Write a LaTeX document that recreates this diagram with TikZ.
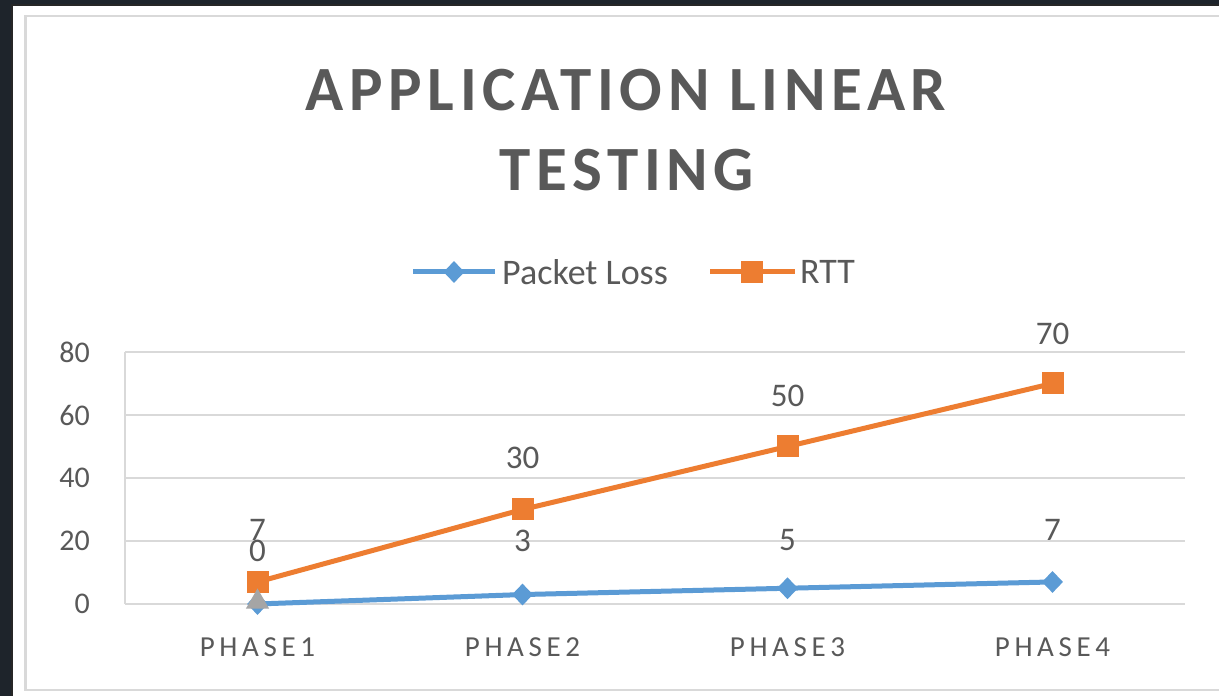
\documentclass[tikz,border=0pt]{standalone}
\usepackage{fontspec}
\setmainfont{Carlito}
\usetikzlibrary{shapes.geometric}
\definecolor{bgdark}{HTML}{1E242B}
\definecolor{plblue}{HTML}{5B9BD5}
\definecolor{rttorange}{HTML}{ED7D31}
\definecolor{sergray}{HTML}{A5A5A5}
\definecolor{txtgray}{HTML}{595959}
\definecolor{gridgray}{HTML}{D9D9D9}
\tikzset{
  gridline/.style={draw=gridgray, line width=1.6pt},
  serline/.style={line width=5pt, line join=round},
  diamk/.style={diamond, fill=plblue, minimum width=21pt, minimum height=22pt, inner sep=0pt},
  sqmk/.style={rectangle, fill=rttorange, minimum size=22pt, inner sep=0pt},
  trimk/.style={regular polygon, regular polygon sides=3, fill=sergray, minimum size=27pt, inner sep=0pt},
  datalab/.style={text=txtgray, font=\fontsize{33}{36}\selectfont, inner sep=0pt},
  axlab/.style={text=txtgray, font=\fontsize{30}{36}\selectfont, inner sep=0pt, anchor=east},
  catlab/.style={text=txtgray, font=\fontsize{29}{30}\selectfont\addfontfeature{LetterSpace=16}, inner sep=0pt},
  legtext/.style={text=txtgray, font=\fontsize{36}{40}\selectfont, inner sep=0pt, anchor=west},
  titletext/.style={text=txtgray, font=\fontsize{63}{70}\bfseries\selectfont\addfontfeature{LetterSpace=9}, inner sep=0pt}
}
\begin{document}
\begin{tikzpicture}[x=1pt,y=1pt]
\useasboundingbox (0,0) rectangle (1219,696);
\fill[bgdark] (0,0) rectangle (1219,696);
\fill[black!85] (10.5,0) rectangle (1219,691.5);
\fill[white] (12.5,0) rectangle (1219,689.5);
\draw[gridgray, line width=2.5pt] (25.5,6) rectangle (1230,680);

% title
\node[titletext] (t1) at (626,606) {APPLICATION LINEAR};
\node[titletext] (t2) at (627,526) {TESTING};

% legend
\coordinate (lb1) at (413,424);
\coordinate (lb2) at (495,424);
\draw[serline, draw=plblue] (lb1) -- (lb2);
\node[diamk] (lbm) at (454,424) {};
\node[legtext] (lbt) at (502,424) {Packet Loss};
\coordinate (lo1) at (710,424);
\coordinate (lo2) at (795,424);
\draw[serline, draw=rttorange] (lo1) -- (lo2);
\node[sqmk] (lom) at (752,424) {};
\node[legtext] (lot) at (800,424) {RTT};

% grid
\foreach \v/\n in {0/g0,20/g20,40/g40,60/g60,80/g80}{
  \coordinate (\n a) at (125,{92+3.15*\v});
  \coordinate (\n b) at (1185,{92+3.15*\v});
  \draw[gridline] (\n a) -- (\n b);
  \node[axlab] (y\n) at (90,{92+3.15*\v}) {\v};
}
\draw[gridline] (g0a) -- (g80a);

% categories
\node[catlab] (c1) at (257.5,49) {PHASE1};
\node[catlab] (c2) at (522.5,49) {PHASE2};
\node[catlab] (c3) at (787.5,49) {PHASE3};
\node[catlab] (c4) at (1052.5,49) {PHASE4};

% packet loss series
\coordinate (p1) at (257.5,{92+3.15*0});
\coordinate (p2) at (522.5,{92+3.15*3});
\coordinate (p3) at (787.5,{92+3.15*5});
\coordinate (p4) at (1052.5,{92+3.15*7});
\draw[serline, draw=plblue] (p1) -- (p2) -- (p3) -- (p4);
\foreach \i in {1,...,4}{ \node[diamk] (pm\i) at (p\i) {}; }

% RTT series
\coordinate (r1) at (257.5,{92+3.15*7});
\coordinate (r2) at (522.5,{92+3.15*30});
\coordinate (r3) at (787.5,{92+3.15*50});
\coordinate (r4) at (1052.5,{92+3.15*70});
\draw[serline, draw=rttorange] (r1) -- (r2) -- (r3) -- (r4);
\foreach \i in {1,...,4}{ \node[sqmk] (rm\i) at (r\i) {}; }

% third series point
\node[trimk] (gm1) at (257.5,94) {};

% data labels
\node[datalab] (pl1) at (257.5,145) {0};
\node[datalab] (pl2) at (522.5,155) {3};
\node[datalab] (pl3) at (787.5,156) {5};
\node[datalab] (pl4) at (1052.5,166) {7};
\node[datalab] (rl1) at (257.5,166) {7};
\node[datalab] (rl2) at (522.5,238) {30};
\node[datalab] (rl3) at (787.5,300) {50};
\node[datalab] (rl4) at (1052.5,362) {70};
\end{tikzpicture}
\end{document}
